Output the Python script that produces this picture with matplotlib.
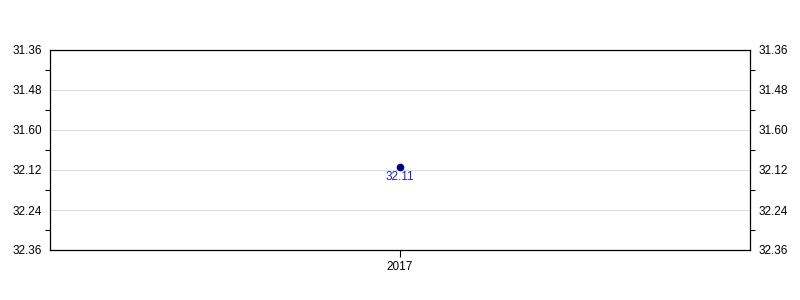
import matplotlib.pyplot as plt
from matplotlib.ticker import FixedLocator

plt.rcParams['font.family'] = ['Liberation Sans', 'DejaVu Sans']

years = ["2017"]
values = [32.11]
# tick values on the scale and the labels shown on the axis
tick_vals = [31.76, 31.88, 32.00, 32.12, 32.24, 32.36]
tick_labels = ["31.36", "31.48", "31.60", "32.12", "32.24", "32.36"]

fig = plt.figure(figsize=(8, 3), dpi=100)
ax = fig.add_axes([50 / 800, 50 / 300, 700 / 800, 200 / 300])

x = list(range(len(years)))
ax.plot(x, values, "o", color="#000080", markersize=4.5, zorder=3)
for xi, v in zip(x, values):
    ax.annotate(f"{v:.2f}", (xi, v), xytext=(0, -7.5), textcoords="offset points",
                ha="center", va="center", color="#2222aa", fontsize=8.5)

ax.set_xlim(-0.5, len(years) - 0.5)
ax.set_xticks(x)
ax.set_xticklabels(years, fontsize=8.5)
ax.tick_params(axis="x", direction="out", length=5, width=0.8, pad=3)

ax.set_ylim(tick_vals[-1], tick_vals[0])
ax.set_yticks(tick_vals)
ax.set_yticklabels(tick_labels, fontsize=8.5)
minor = [(a + b) / 2 for a, b in zip(tick_vals[:-1], tick_vals[1:])]
ax.yaxis.set_minor_locator(FixedLocator(minor))
ax.tick_params(axis="y", which="major", length=0, pad=6, left=True, right=True,
               labelleft=True, labelright=True)
ax.tick_params(axis="y", which="minor", direction="out", length=3.5, width=0.8,
               left=True, right=True)
ax.grid(axis="y", which="major", color="#dddddd", linewidth=0.8)
ax.set_axisbelow(True)

for s in ax.spines.values():
    s.set_linewidth(0.9)

fig.savefig("out.png", dpi=100)
